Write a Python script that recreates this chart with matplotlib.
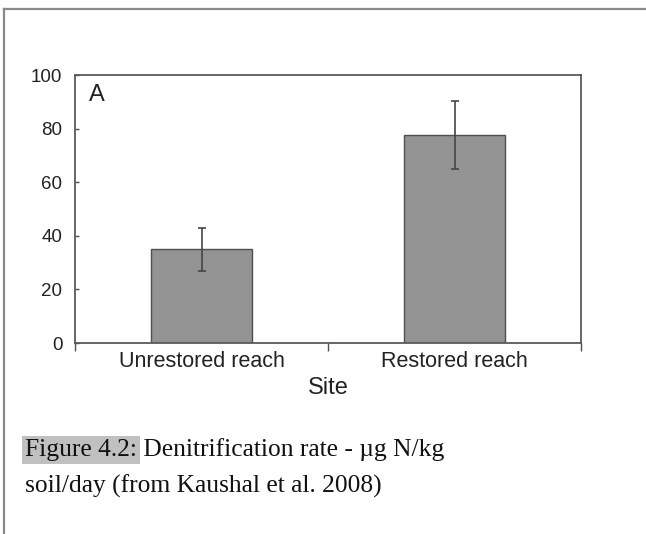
import matplotlib.pyplot as plt
from matplotlib.lines import Line2D

sites = ["Unrestored reach", "Restored reach"]
rates = [35.0, 77.5]
errors = [8.0, 12.7]
y_ticks = [0, 20, 40, 60, 80, 100]

caption_head = "Figure 4.2:"
caption_rest = " Denitrification rate - \u00b5g N/kg"
caption_line2 = "soil/day (from Kaushal et al. 2008)"

W, H = 646, 534
fig = plt.figure(figsize=(W / 100, H / 100), dpi=100)
plt.rcParams['font.family'] = ['Liberation Sans', 'DejaVu Sans']

# outer page frame (left and top edges only visible)
frame_kw = dict(transform=fig.transFigure, color='#8a8a8a', linewidth=1.6)
fig.lines.append(Line2D([4 / W, 4 / W], [0, 1 - 9 / H], **frame_kw))
fig.lines.append(Line2D([4 / W, 1], [1 - 9 / H, 1 - 9 / H], **frame_kw))

ax = fig.add_axes([75 / W, 1 - 343 / H, 506 / W, 268 / H])
pos = [0.5, 1.5]
ax.bar(pos, rates, width=0.4, color='#939393', edgecolor='#505050', linewidth=1)
ax.errorbar(pos, rates, yerr=errors, fmt='none', ecolor='#454545',
            elinewidth=1.2, capsize=3, capthick=1.2)

ax.set_xlim(0, 2)
ax.set_ylim(0, 100)
ax.set_yticks(y_ticks)
ax.set_xticks([0, 1, 2])
ax.set_xticklabels([])
ax.set_xticks(pos, minor=True)
ax.set_xticklabels(sites, minor=True, fontsize=15.5, color='#222222')
ax.tick_params(axis='x', which='minor', length=0, pad=6)
ax.tick_params(axis='x', which='major', direction='out', length=6,
               color='#505050', width=1)
ax.tick_params(axis='y', direction='in', length=3, color='#505050', width=1,
               labelsize=13.5, labelcolor='#222222', pad=9)
for s in ax.spines.values():
    s.set_color('#5a5a5a')
    s.set_linewidth(1.3)

ax.set_xlabel("Site", fontsize=17, color='#222222', labelpad=3)
ax.text(0.028, 0.965, "A", transform=ax.transAxes, fontsize=17,
        va='top', ha='left', color='#222222')

# caption
serif = ['Liberation Serif', 'DejaVu Serif']
cap_size = 18.4
t1 = fig.text(25 / W, 1 - 456 / H, caption_head, family=serif, fontsize=cap_size,
              va='baseline', ha='left', color='#111111',
              bbox=dict(boxstyle='square,pad=0.12', facecolor='#c0c0c0',
                        edgecolor='none'))
fig.canvas.draw()
ext = t1.get_window_extent()
fig.text(ext.x1 / W, 1 - 456 / H, caption_rest, family=serif, fontsize=cap_size,
         va='baseline', ha='left', color='#111111')
fig.text(25 / W, 1 - 493 / H, caption_line2, family=serif, fontsize=cap_size,
         va='baseline', ha='left', color='#111111')

fig.savefig("out.png", dpi=100)
